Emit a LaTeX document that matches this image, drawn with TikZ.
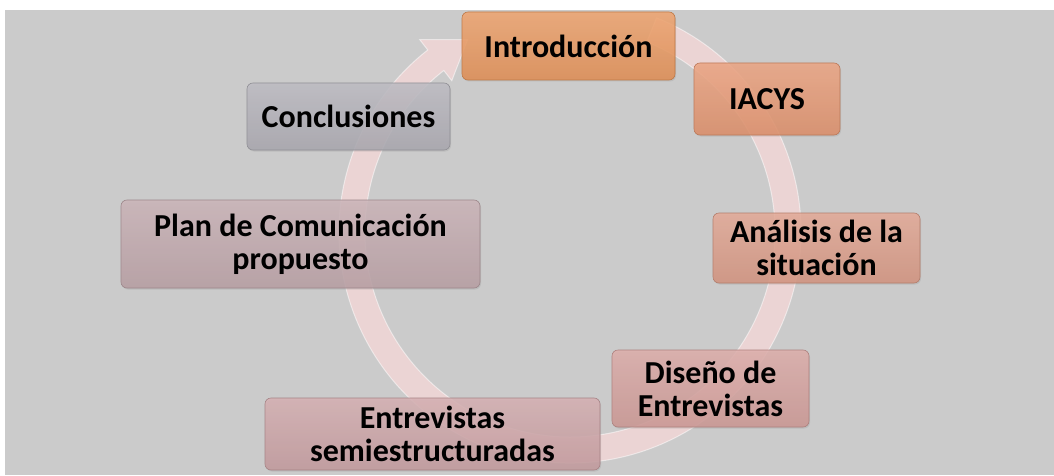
\documentclass[tikz,border=0pt]{standalone}
\usepackage{fontspec}
\setmainfont{Carlito}
\usetikzlibrary{shadows}

\definecolor{bggray}{HTML}{CBCBCB}
\definecolor{ringpink}{HTML}{EFD6D6}
\definecolor{introc}{HTML}{EE9658}
\definecolor{iacysc}{HTML}{EA966E}
\definecolor{analc}{HTML}{E09C86}
\definecolor{disec}{HTML}{D8A09C}
\definecolor{entrc}{HTML}{CFA3A6}
\definecolor{planc}{HTML}{C3A8AD}
\definecolor{conclc}{HTML}{B3B1B9}

\begin{document}
\begin{tikzpicture}[x=1pt,y=1pt,
  box node/.style={rectangle, rounded corners=6pt, align=center, inner sep=2pt,
    top color=#1!85!white, bottom color=#1!94!black, draw=#1!80!black, line width=0.6pt,
    fill opacity=0.85, text opacity=1,
    drop shadow={opacity=0.2, shadow xshift=1pt, shadow yshift=-1.5pt},
    font=\fontsize{32}{33}\selectfont\bfseries}]

            \useasboundingbox (0,0) rectangle (1054,475);
            \fill[bggray] (5,0) rectangle (1054,465);

            % cycle arrow
            \coordinate (c) at (570,243);
            \fill[ringpink, fill opacity=0.9, draw=white, draw opacity=0.5, line width=1pt]
              ([shift={(68:231)}]c) arc[start angle=68, end angle=-232, radius=231]
              -- ([shift={(-232:244)}]c) -- ([shift={(-242:218)}]c) -- ([shift={(-232:192)}]c)
              -- ([shift={(-232:205)}]c) arc[start angle=-232, end angle=68, radius=205]
              -- cycle;

            \node[box node=introc, minimum width=213pt, minimum height=68pt]  (1) at (568.5,429) {Introducción};
            \node[box node=iacysc, minimum width=146pt, minimum height=72pt]  (2) at (767,376) {IACYS};
            \node[box node=analc, minimum width=207pt, minimum height=70pt]   (3) at (816.5,227) {Análisis de la\\situación};
            \node[box node=disec, minimum width=197pt, minimum height=77pt]   (4) at (710.5,86.5) {Diseño de\\Entrevistas};
            \node[box node=entrc, minimum width=335pt, minimum height=72pt]   (5) at (432.5,41) {Entrevistas\\semiestructuradas};
            \node[box node=planc, minimum width=359pt, minimum height=88pt]   (6) at (300.5,231) {Plan de Comunicación\\propuesto};
            \node[box node=conclc, minimum width=203pt, minimum height=67pt]  (7) at (348.5,358.5) {Conclusiones};

\end{tikzpicture}
\end{document}
